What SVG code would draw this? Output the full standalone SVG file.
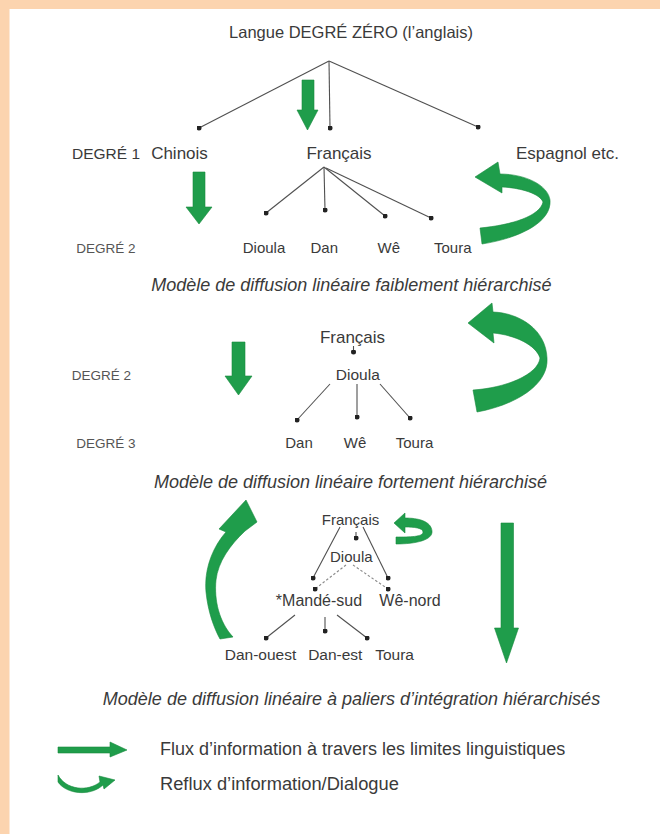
<svg xmlns="http://www.w3.org/2000/svg" width="660" height="834" viewBox="0 0 660 834">
<style>
text{font-family:"Liberation Sans",Arial,sans-serif;fill:#3a3a3a;text-anchor:middle}
.l1{font-size:17px}
.l2{font-size:15px}
.deg{font-size:13.5px;fill:#555}
.cap{font-size:18px;font-style:italic}
.leg{font-size:18px;text-anchor:start}
.ln{stroke:#505050;stroke-width:1.1;fill:none;marker-end:url(#dot)}
.dash{stroke:#8a8a8a;stroke-width:1.1;fill:none;stroke-dasharray:2.5 2;marker-end:url(#dot)}
.g{fill:#1f9d4b;stroke:#178a3e;stroke-width:0.6}
</style>
<defs>
<marker id="dot" viewBox="0 0 6 6" refX="3" refY="3" markerWidth="5" markerHeight="5" markerUnits="userSpaceOnUse">
<circle cx="3" cy="3" r="3" fill="#222"/>
</marker>
</defs>
<rect x="0" y="0" width="660" height="834" fill="#ffffff"/>
<rect x="0" y="0" width="660" height="9" fill="#fcd4af"/>
<rect x="0" y="0" width="9.5" height="834" fill="#fcd4af"/>

<g id="connectors">
<line class="ln" x1="329" y1="61" x2="199" y2="128"/>
<line class="ln" x1="329" y1="61" x2="330" y2="128"/>
<line class="ln" x1="329" y1="61" x2="478" y2="127"/>
<line class="ln" x1="324" y1="167" x2="266" y2="213"/>
<line class="ln" x1="324" y1="167" x2="325" y2="210"/>
<line class="ln" x1="324" y1="167" x2="385" y2="216"/>
<line class="ln" x1="326" y1="168" x2="431" y2="218"/>
<line class="ln" x1="353.5" y1="346" x2="353.5" y2="352"/>
<line class="ln" x1="330" y1="384" x2="297" y2="420"/>
<line class="ln" x1="357" y1="384" x2="357" y2="417"/>
<line class="ln" x1="380" y1="384" x2="410" y2="418"/>
<line class="ln" x1="340" y1="527" x2="313" y2="578"/>
<line class="ln" x1="363" y1="527" x2="388" y2="578"/>
<line class="ln" x1="356" y1="532" x2="356" y2="538"/>
<line class="dash" x1="346" y1="565" x2="315" y2="589"/>
<line class="dash" x1="353" y1="565" x2="388" y2="589"/>
<line class="ln" x1="295" y1="615" x2="266" y2="638"/>
<line class="ln" x1="325" y1="617" x2="325" y2="631"/>
<line class="ln" x1="337" y1="615" x2="367" y2="638"/>
</g>

<g id="flow-arrows">
<polygon class="g" points="302,80 314,80 314,110 318,110 307.5,130 297,110 302,110"/>
<polygon class="g" points="193,172 205,172 205,207 212,207 199,224 186,207 193,207"/>
<polygon class="g" points="232,342 245,342 245,376 252,376 238.5,395 225,376 232,376"/>
<polygon class="g" points="501,523 513.5,523 513.5,628 518.5,628 506.5,663 494.5,628 501,628"/>
</g>

<g id="reflux-arrows">
<path class="g" d="M482,244 C520,238 552,222 550,200 C548,185 525,174 500,174 L498,162 L475,177 L502,193 L502,187 C522,188 540,194 543,202 C540,216 512,225 480,228 Z"/>
<path class="g" d="M477,412 C515,405 549,385 547,358 C546,330 520,313 493,312 L492,303 L468,323 L494,343 L493,333 C515,335 536,345 540,358 C538,375 505,388 473,390 Z"/>
<path class="g" d="M233,637 C219,622 214,600 216,580 C218,562 230,545 245,531 L257,522 L246,500 L219,529 L226,532 C212,548 204,570 206,592 C208,612 214,628 220,639 Z"/>
<path class="g" d="M396,544 C416,544 433,540 432,531 C431,521 418,518 405,518 L405,513 L394,523 L405,533 L405,527 C414,527 423,528 423,532 C423,537 410,537 396,537 Z"/>
</g>

<g id="n-root"><text class="l1" x="351" y="38" style="font-size:16.5px">Langue DEGRÉ ZÉRO (l’anglais)</text></g>
<g id="n-deg1"><text class="l1" x="106" y="159" style="font-size:15.5px">DEGRÉ 1</text></g>
<g id="n-chinois"><text class="l1" x="179.5" y="159">Chinois</text></g>
<g id="n-francais1"><text class="l1" x="339" y="159">Français</text></g>
<g id="n-espagnol"><text class="l1" x="567.5" y="159">Espagnol etc.</text></g>
<g id="n-deg2a"><text class="deg" x="106" y="253">DEGRÉ 2</text></g>
<g id="n-dioula1"><text class="l2" x="264" y="253">Dioula</text></g>
<g id="n-dan1"><text class="l2" x="324.3" y="253">Dan</text></g>
<g id="n-we1"><text class="l2" x="388.8" y="253">Wê</text></g>
<g id="n-toura1"><text class="l2" x="452.8" y="253">Toura</text></g>
<g id="cap1"><text class="cap" x="351.3" y="291">Modèle de diffusion linéaire faiblement hiérarchisé</text></g>

<g id="n-francais2"><text class="l1" x="352.5" y="343">Français</text></g>
<g id="n-deg2b"><text class="deg" x="101.3" y="380">DEGRÉ 2</text></g>
<g id="n-dioula2"><text class="l2" x="357.8" y="380" style="font-size:15.5px">Dioula</text></g>
<g id="n-deg3"><text class="deg" x="106" y="448">DEGRÉ 3</text></g>
<g id="n-dan2"><text class="l2" x="299" y="448">Dan</text></g>
<g id="n-we2"><text class="l2" x="355" y="448">Wê</text></g>
<g id="n-toura2"><text class="l2" x="414.5" y="448">Toura</text></g>
<g id="cap2"><text class="cap" x="350.5" y="488">Modèle de diffusion linéaire fortement hiérarchisé</text></g>

<g id="n-francais3"><text class="l2" x="350.5" y="525">Français</text></g>
<g id="n-dioula3"><text class="l2" x="351.3" y="562">Dioula</text></g>
<g id="n-mande"><text class="l2" x="319" y="606" style="font-size:16px">*Mandé-sud</text></g>
<g id="n-wenord"><text class="l2" x="410" y="606" style="font-size:16px">Wê-nord</text></g>
<g id="n-danouest"><text class="l2" x="260.5" y="660" style="font-size:15.5px">Dan-ouest</text></g>
<g id="n-danest"><text class="l2" x="335.3" y="660" style="font-size:15.5px">Dan-est</text></g>
<g id="n-toura3"><text class="l2" x="394.6" y="660" style="font-size:15.5px">Toura</text></g>
<g id="cap3"><text class="cap" x="351.5" y="705">Modèle de diffusion linéaire à paliers d’intégration hiérarchisés</text></g>

<g id="legend">
<polygon class="g" points="58,747 110,747 110,742 127,750 110,757 110,753 58,753"/>
<text class="leg" x="160" y="755">Flux d’information à travers les limites linguistiques</text>
<path class="g" d="M58,775 C66,790 88,792 100,782 L99,776 L115,780 L104,789 L103,785 C90,797 66,794 58,782 Z"/>
<text class="leg" x="160" y="790" style="font-size:18.3px">Reflux d’information/Dialogue</text>
</g>
</svg>
